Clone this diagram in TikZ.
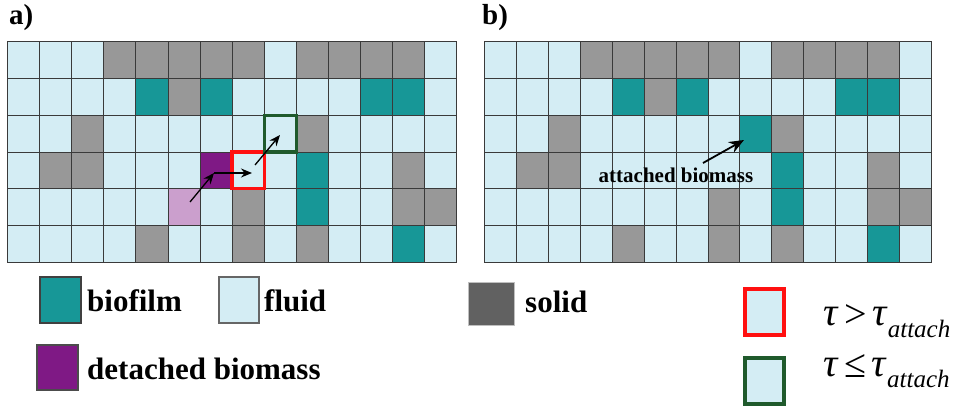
\documentclass[tikz,border=0pt]{standalone}
\usepackage{fontspec}
\setmainfont{Liberation Serif}
\usetikzlibrary{arrows.meta}
\definecolor{cF}{HTML}{D4EDF4}
\definecolor{cS}{HTML}{989898}
\definecolor{cB}{HTML}{179797}
\definecolor{cD}{HTML}{7F1985}
\definecolor{cL}{HTML}{CB9FCD}
\definecolor{solidleg}{HTML}{616161}
\definecolor{gridline}{HTML}{3A3A3A}
\definecolor{greenbox}{HTML}{1F5A2C}
\definecolor{redbox}{HTML}{FF1010}
\begin{document}
\begin{tikzpicture}[x=1pt,y=-1pt,
  cell/.style={draw=gridline,line width=1pt},
  swatch/.style={line width=1.2pt},
  bigtxt/.style={font=\bfseries\fontsize{31}{31}\selectfont,inner sep=0pt,anchor=base west},
  arr/.style={line width=1.3pt,-{Stealth[length=11pt,width=9pt]}},
  mathtxt/.style={font=\fontsize{40}{40}\selectfont,inner sep=0pt,anchor=base west}]
\useasboundingbox (0,0) rectangle (967,414);
\fill[white] (0,0) rectangle (967,414);
% grids
\def\gridA{{F,F,F,S,S,S,S,S,F,S,S,S,S,F},{F,F,F,F,B,S,B,F,F,F,F,B,B,F},{F,F,S,F,F,F,F,F,F,S,F,F,F,F},{F,S,S,F,F,F,D,F,F,B,F,F,S,F},{F,F,F,F,F,L,F,S,F,B,F,F,S,S},{F,F,F,F,S,F,F,S,F,S,F,F,B,F}}
\def\gridB{{F,F,F,S,S,S,S,S,F,S,S,S,S,F},{F,F,F,F,B,S,B,F,F,F,F,B,B,F},{F,F,S,F,F,F,F,F,B,S,F,F,F,F},{F,S,S,F,F,F,F,F,F,B,F,F,S,F},{F,F,F,F,F,F,F,S,F,B,F,F,S,S},{F,F,F,F,S,F,F,S,F,S,F,F,B,F}}
\foreach \row [count=\r from 0] in \gridA {
  \foreach \c [count=\k from 0] in \row {
    \filldraw[cell,fill=c\c] ({7.5+\k*32.1},{42+\r*36.67}) rectangle ++(32.1,36.67);
  }
}
\foreach \row [count=\r from 0] in \gridB {
  \foreach \c [count=\k from 0] in \row {
    \filldraw[cell,fill=c\c] ({484.5+\k*31.93},{42+\r*36.67}) rectangle ++(31.93,36.67);
  }
}
% highlighted cells
\draw[redbox,line width=3.5pt] ({7.5+7*32.1},{42+3*36.67}) rectangle ++(32.1,36.67);
\draw[greenbox,line width=3.5pt] ({7.5+8*32.1},{42+2*36.67}) rectangle ++(32.1,36.67);
% arrows in a
\coordinate (a1s) at (190,202);
\coordinate (a1e) at (214,173);
\coordinate (a2s) at (214,173);
\coordinate (a2e) at (252,173);
\coordinate (a3s) at (255,165);
\coordinate (a3e) at (280,135);
\draw[arr] (a1s) -- (a1e);
\draw[arr] (a2s) -- (a2e);
\draw[arr] (a3s) -- (a3e);
% panel labels
\node[bigtxt,font=\bfseries\fontsize{29}{29}\selectfont] (la) at (9,25) {a)};
\node[bigtxt,font=\bfseries\fontsize{29}{29}\selectfont] (lb) at (482,25) {b)};
% attached biomass
\node[font=\bfseries\fontsize{21}{21}\selectfont,inner sep=0pt,anchor=base] (att) at (676,183) {attached biomass};
\coordinate (attS) at (703,163);
\coordinate (attE) at (744,140);
\draw[line width=1.8pt,-{Stealth[length=15pt,width=12pt]}] (attS) -- (attE);
% legend
\filldraw[swatch,fill=cB,draw=black!75] (40,277) rectangle (81,323);
\node[bigtxt] (tbio) at (87,312) {biofilm};
\filldraw[swatch,fill=cF,draw=black!60] (219,277) rectangle (259,323);
\node[bigtxt] (tflu) at (264,312) {fluid};
\filldraw[fill=solidleg,draw=black!25,line width=0.6pt] (468,282) rectangle (514,325);
\node[bigtxt] (tsol) at (525,312.5) {solid};
\filldraw[swatch,fill=cD,draw=black!70] (37,345) rectangle (78,390);
\node[bigtxt] (tdet) at (87,379) {detached biomass};
\filldraw[fill=cF,draw=redbox,line width=4pt] (745,289) rectangle (784,335);
\filldraw[fill=cF,draw=greenbox,line width=4pt] (745,358) rectangle (784,404);
\node[mathtxt] (tgt) at (823,325) {\textit{τ}\hspace{6pt}\raisebox{-2pt}{>}\hspace{5pt}\textit{τ}\raisebox{-12pt}{\fontsize{25}{25}\selectfont\textit{attach}}};
\node[mathtxt] (tle) at (823,376) {\textit{τ}\hspace{6pt}\raisebox{-1pt}{≤}\hspace{5pt}\textit{τ}\raisebox{-11pt}{\fontsize{25}{25}\selectfont\textit{attach}}};
\end{tikzpicture}
\end{document}
